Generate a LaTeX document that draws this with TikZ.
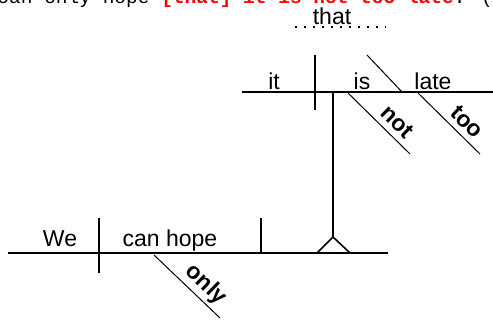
\documentclass[tikz,border=0pt]{standalone}
\usepackage{fontspec}
\setmainfont{Liberation Sans}
\newfontfamily\sentencefont{Liberation Mono}
\definecolor{hintred}{RGB}{255, 0, 0}

\begin{document}
\begin{tikzpicture}[x=1pt, y=-1pt,
    mainline/.style={line width=1.6pt},
    modline/.style={line width=1pt},
    word/.style={font=\fontsize{23}{26}\selectfont, inner sep=0pt, anchor=base},
    slantword/.style={font=\fontsize{23}{26}\selectfont\bfseries, inner sep=0pt, rotate=-44}]
    \useasboundingbox (0,0) rectangle (493,320);
    \clip (0,0) rectangle (493,320);

    % Sentence line, cut off at the top
    \node[font=\sentencefont\fontsize{19.5}{22}\selectfont, inner sep=0pt,
          anchor=base west] (sentence) at (-2.7,4)
      {can only hope \textcolor{hintred}{\bfseries [that] it is not too late}. (};

    % Conjunction on its dotted line
    \node[word] (that) at (332,25) {that};
    \draw[line width=1.5pt, dash pattern=on 1.5pt off 7.5pt] (295,27) -- (386,27);

    % Clause: it is late
    \draw[mainline] (242,92) -- (493,92);
    \draw[mainline] (315,55) -- (315,110);
    \draw[modline] (367,55) -- (402,92);
    \node[word] (it) at (274,90) {it};
    \node[word] (is) at (362,90) {is};
    \node[word] (late) at (433,90) {late};

    % Modifiers of the clause
    \foreach \x/\w in {348/not, 418/too}{
      \draw[modline] (\x,93) -- ++(62,61);
      \node[slantword] (mod-\w) at (\x+49,122) {\w};
    }

    % Pedestal down to the object place
    \draw[mainline] (333,92) -- (333,237);
    \draw[mainline] (317,253) -- (333,237) -- (350,253);

    % Main clause: We can hope
    \draw[mainline] (8,253) -- (388,253);
    \draw[mainline] (99,218) -- (99,273);
    \draw[mainline] (261,218) -- (261,253);
    \node[word] (we) at (60,247) {We};
    \node[word] (canhope) at (170,247) {can hope};

    % Modifier of the verb
    \draw[modline] (154,255) -- (220,318);
    \node[slantword] (only) at (206,285) {only};
\end{tikzpicture}
\end{document}
